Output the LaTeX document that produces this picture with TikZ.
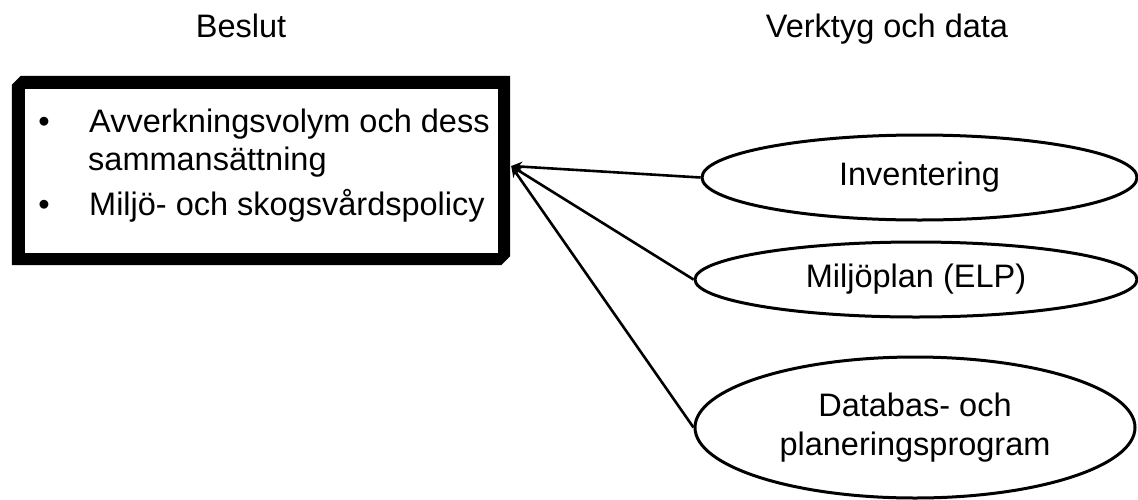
\documentclass[tikz,border=0pt]{standalone}
\usepackage{fontspec}
\setmainfont{Liberation Sans}
\usetikzlibrary{shapes.geometric,arrows.meta}
\begin{document}
\begin{tikzpicture}[x=1pt,y=-1pt,
  txt/.style={font=\fontsize{32.5}{39}\selectfont, inner sep=0pt},
  oval/.style={ellipse, draw, line width=3pt, inner sep=0pt, txt, align=center},
  conn/.style={line width=2.6pt, -{Stealth[length=11pt,width=10pt]}}]
\useasboundingbox (0,0) rectangle (1138,499);

% titles
\node[txt, anchor=base] (t1) at (241,37) {Beslut};
\node[txt, anchor=base] (t2) at (887,37) {Verktyg och data};

% decision box
\node[minimum width=498pt, minimum height=189pt, inner sep=0pt] (box) at (261,170.5) {};
\fill[even odd rule]
  ([shift={(0,9)}]box.north west) -- ([shift={(9,0)}]box.north west) -- (box.north east)
  -- ([shift={(0,-9)}]box.south east) -- ([shift={(-9,0)}]box.south east) -- (box.south west) -- cycle
  ([shift={(13,13)}]box.north west) rectangle ([shift={(-12,-12)}]box.south east);

\node[txt, anchor=base] (d1) at (44,132) {•};
\node[txt, anchor=base west] (l1) at (89,132) {Avverkningsvolym och dess};
\node[txt, anchor=base west] (l1b) at (88,170) {sammansättning};
\node[txt, anchor=base] (d2) at (44,215) {•};
\node[txt, anchor=base west] (l2) at (89,215) {Miljö- och skogsvårdspolicy};

% tools
\node[oval, minimum width=435pt, minimum height=85pt] (inv) at (919.5,177.5) {Inventering};
\node[oval, minimum width=442pt, minimum height=75pt] (elp) at (916,279.5) {Miljöplan (ELP)};
\node[oval, minimum width=440pt, minimum height=141pt] (db) at (915,427.5) {Databas- och\\planeringsprogram};

% connectors
\coordinate (tip) at ([shift={(1,-4.5)}]box.east);
\draw[conn] (inv.west) -- (tip);
\draw[conn] (elp.west) -- (tip);
\draw[conn] (db.west) -- (tip);
\end{tikzpicture}
\end{document}
